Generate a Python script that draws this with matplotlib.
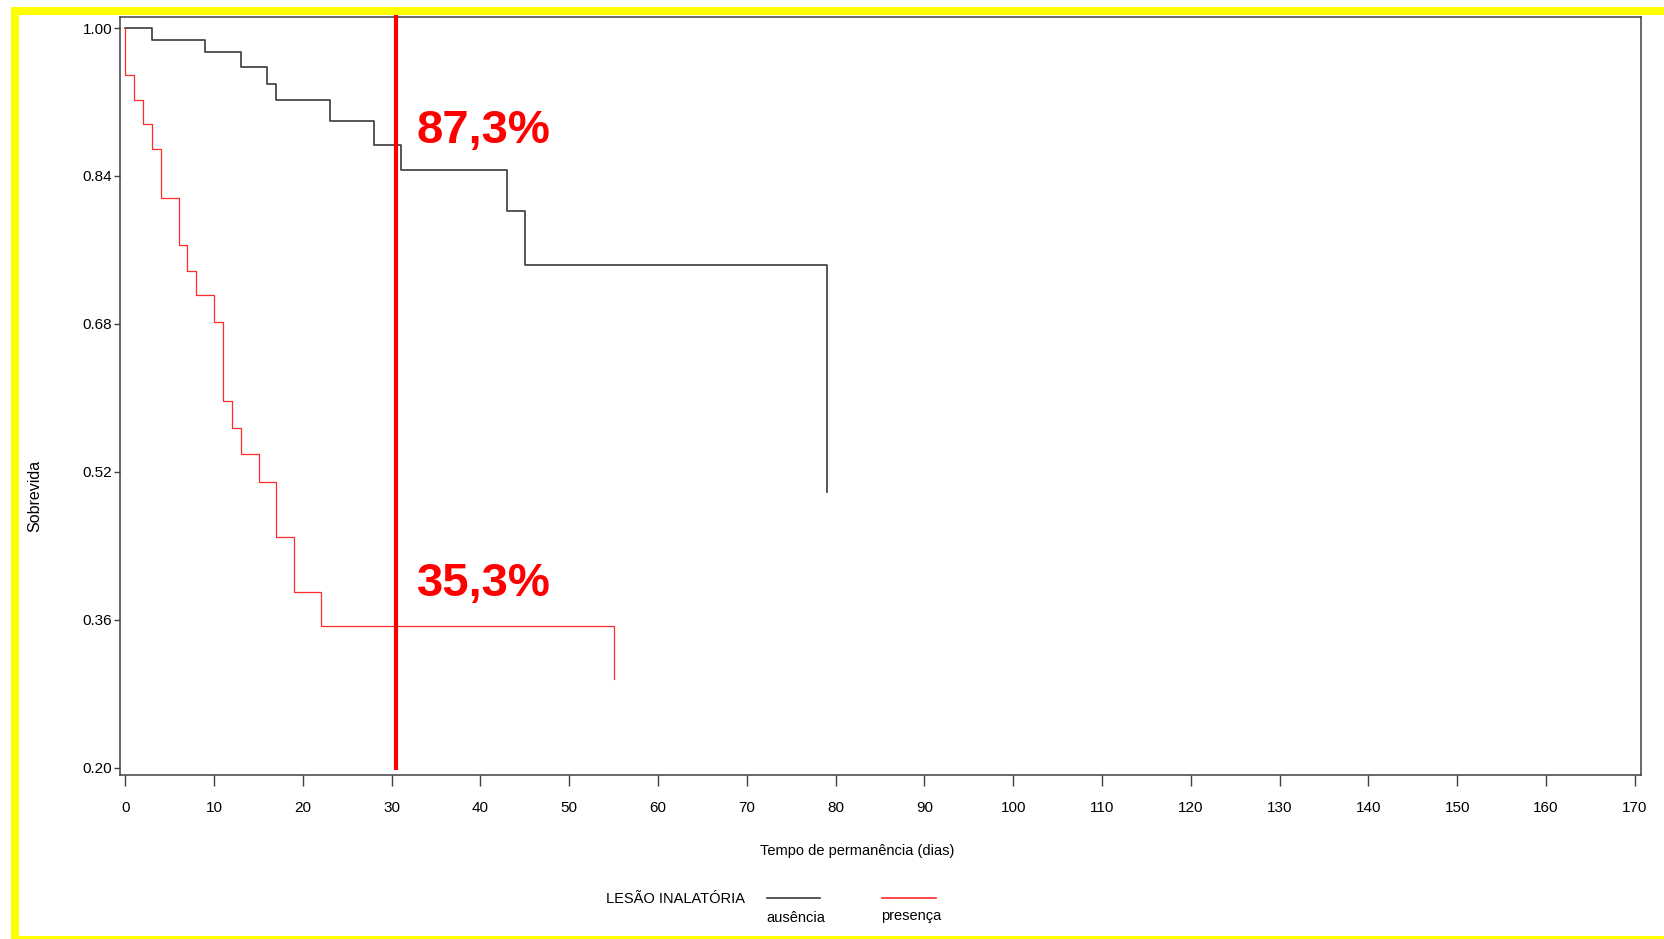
import matplotlib
matplotlib.use("Agg")
import matplotlib.pyplot as plt
from matplotlib.patches import Rectangle
from matplotlib.lines import Line2D

plt.rcParams['font.family'] = ['Liberation Sans', 'DejaVu Sans']

# ── Kaplan-Meier estimates (tempo em dias, sobrevida) ─────────────────────────
tempo_ausencia = [0, 3, 9, 13, 16, 17, 23, 28, 31, 43, 45, 79]
sobrev_ausencia = [1.0, 0.987, 0.974, 0.958, 0.939, 0.922, 0.899, 0.873,
                   0.846, 0.802, 0.744, 0.498]

tempo_presenca = [0, 0, 1, 2, 3, 4, 6, 7, 8, 10, 11, 12, 13, 15, 17, 19, 22, 55]
sobrev_presenca = [1.0, 0.949, 0.922, 0.896, 0.869, 0.816, 0.765, 0.737, 0.711,
                   0.682, 0.597, 0.568, 0.539, 0.509, 0.450, 0.390, 0.353, 0.296]

corte_dias = 30.5
rotulos = ['87,3%', '35,3%']
rotulo_y = [0.8754, 0.386]

x_ticks = list(range(0, 171, 10))
y_ticks = [0.20, 0.36, 0.52, 0.68, 0.84, 1.00]

W, H = 1664, 939
fig = plt.figure(figsize=(W / 100, H / 100), dpi=100)

# yellow frame (left, top, bottom)
for (x0, y0, w, h) in [(11, 7, 8, 932), (11, 7, W - 11, 8), (11, 936, W - 11, 3)]:
    fig.patches.append(Rectangle((x0 / W, 1 - (y0 + h) / H), w / W, h / H,
                                 transform=fig.transFigure, facecolor='#ffff00',
                                 edgecolor='none', zorder=0))

ax = fig.add_axes([120 / W, 1 - 775 / H, (1641 - 120) / W, (775 - 17) / H])

ax.step(tempo_ausencia, sobrev_ausencia, where='post', color='#3a3a3a', lw=1.2)
ax.step(tempo_presenca, sobrev_presenca, where='post', color='#ff2a2a', lw=0.9)

# 30-day cut
ax.plot([corte_dias, corte_dias], [0.198, 1.014], color='#ff0000', lw=3.0,
        clip_on=False, solid_capstyle='butt', zorder=5)
for txt, yv in zip(rotulos, rotulo_y):
    ax.text(32.8, yv, txt, color='#ff0000', fontsize=34, fontweight='bold',
            ha='left', va='baseline')

ax.set_xlim(-0.6, 170.7)
ax.set_ylim(0.1924, 1.0119)
ax.set_xticks(x_ticks)
ax.set_yticks(y_ticks)
ax.set_yticklabels([f'{v:.2f}' for v in y_ticks])

for s in ax.spines.values():
    s.set_color('#404040')
    s.set_linewidth(1.1)
ax.tick_params(axis='x', direction='out', length=8, width=1.0, color='#404040',
               labelsize=11, pad=11)
ax.tick_params(axis='y', direction='out', length=4, width=1.0, color='#404040',
               labelsize=11, pad=1.5)

fig.text(857 / W, 1 - 851 / H, 'Tempo de permanência (dias)', fontsize=10.5,
         ha='center', va='center')
fig.text(35 / W, 1 - 496 / H, 'Sobrevida', fontsize=11.5, rotation=90,
         ha='center', va='center')

# legend
fig.text(606 / W, 1 - 899 / H, 'LESÃO INALATÓRIA', fontsize=10.5,
         ha='left', va='center')
fig.lines.append(Line2D([767 / W, 820 / W], [1 - 898 / H] * 2,
                        transform=fig.transFigure, color='#3a3a3a', lw=1.2))
fig.lines.append(Line2D([882 / W, 936 / W], [1 - 898 / H] * 2,
                        transform=fig.transFigure, color='#ff2a2a', lw=1.2))
fig.text(796 / W, 1 - 918 / H, 'ausência', fontsize=10.5, ha='center', va='center')
fig.text(911 / W, 1 - 916 / H, 'presença', fontsize=10.5, ha='center', va='center')

fig.savefig('out.png', dpi=100)
